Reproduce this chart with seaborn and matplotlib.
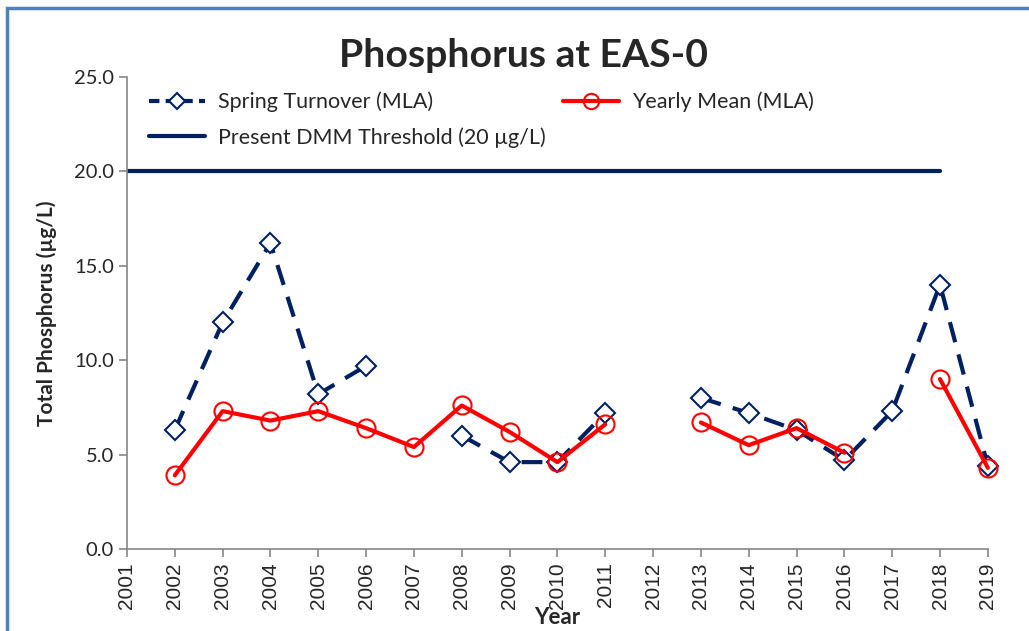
import numpy as np
import pandas as pd
import matplotlib.pyplot as plt
import seaborn as sns
from matplotlib.lines import Line2D
from matplotlib.patches import Rectangle

years = list(range(2001, 2020))
spring = [np.nan, 6.3, 12.0, 16.2, 8.2, 9.7, np.nan, 6.0, 4.6, 4.6, 7.2,
          np.nan, 8.0, 7.2, 6.3, 4.7, 7.3, 14.0, 4.4]
yearly = [np.nan, 3.9, 7.3, 6.8, 7.3, 6.4, 5.4, 7.6, 6.2, 4.6, 6.6,
          np.nan, 6.7, 5.5, 6.4, 5.1, np.nan, 9.0, 4.3]
threshold_years = [2001, 2018]
threshold = [20, 20]

NAVY = "#002060"
RED = "#ff0000"


def segments(vals):
    # give each unbroken run its own id so gaps stay gaps
    seg, out, prev = 0, [], True
    for v in vals:
        if np.isnan(v):
            prev = True
            out.append(-1)
            continue
        if prev:
            seg += 1
        prev = False
        out.append(seg)
    return out


df_s = pd.DataFrame({"year": years, "val": spring, "seg": segments(spring)}).dropna()
df_y = pd.DataFrame({"year": years, "val": yearly, "seg": segments(yearly)}).dropna()
df_t = pd.DataFrame({"year": threshold_years, "val": threshold})

sns.set_style("white")
plt.rcParams["font.family"] = ["Lato", "DejaVu Sans"]

fig = plt.figure(figsize=(10.29, 6.31), dpi=100)
ax = fig.add_axes([0.1234, 0.130, 0.8366, 0.748])

sns.lineplot(data=df_t, x="year", y="val", color=NAVY, lw=3, ax=ax)
sns.lineplot(data=df_s, x="year", y="val", units="seg", estimator=None, color=NAVY,
             lw=3, dashes=False, linestyle=(0, (5, 3)), marker="D", markersize=10,
             markerfacecolor="white", markeredgecolor=NAVY, markeredgewidth=1.5,
             clip_on=False, ax=ax)
sns.lineplot(data=df_y, x="year", y="val", units="seg", estimator=None, color=RED,
             lw=3, marker="o", markersize=13, markerfacecolor="none",
             markeredgecolor=RED, markeredgewidth=1.5, clip_on=False, ax=ax)

ax.set_xlim(2001, 2019)
ax.set_ylim(0, 25)
ax.set_xticks(years)
ax.set_xticklabels([str(y) for y in years], rotation=90, fontsize=15,
                   family="Liberation Sans")
ax.set_yticks(np.arange(0, 26, 5))
ax.set_yticklabels([f"{v:.1f}" for v in np.arange(0, 26, 5)], fontsize=14.5)
ax.tick_params(axis="both", direction="out", length=6, width=1.2, colors="#868686",
               labelcolor="#262626", bottom=True, left=True)
sns.despine(ax=ax)
for s in ["left", "bottom"]:
    ax.spines[s].set_color("#868686")
    ax.spines[s].set_linewidth(1.2)

ax.set_xlabel("Year", fontsize=16, fontweight="bold")
ax.xaxis.label.set_va("center")
ax.xaxis.set_label_coords(0.5, -0.146)
ax.set_ylabel("Total Phosphorus (µg/L)", fontsize=15, fontweight="bold", labelpad=12)
fig.text(0.509, 0.912, "Phosphorus at EAS-0", ha="center", va="center",
         fontsize=28.3, fontweight="bold")

handles = [
    Line2D([], [], color=NAVY, lw=3, linestyle=(0, (2.5, 1.5)), marker="D", markersize=8,
           markerfacecolor="white", markeredgecolor=NAVY, markeredgewidth=1.5),
    Line2D([], [], color=NAVY, lw=3),
    Line2D([], [], color=RED, lw=3, marker="o", markersize=11, markerfacecolor="none",
           markeredgecolor=RED, markeredgewidth=1.5),
]
labels = ["Spring Turnover (MLA)", "Present DMM Threshold (20 µg/L)", "Yearly Mean (MLA)"]
ax.legend(handles, labels, ncol=2, loc="upper left", bbox_to_anchor=(0.003, 1.01),
          frameon=False, fontsize=15.5, handlelength=2.6, columnspacing=0.8,
          labelspacing=0.7, handletextpad=0.6)

fig.patches.append(Rectangle((0.007, -0.02), 1.0, 1.007, transform=fig.transFigure,
                             fill=False, edgecolor="#4f81bd", lw=2.5))

fig.savefig("out.png", dpi=100)
